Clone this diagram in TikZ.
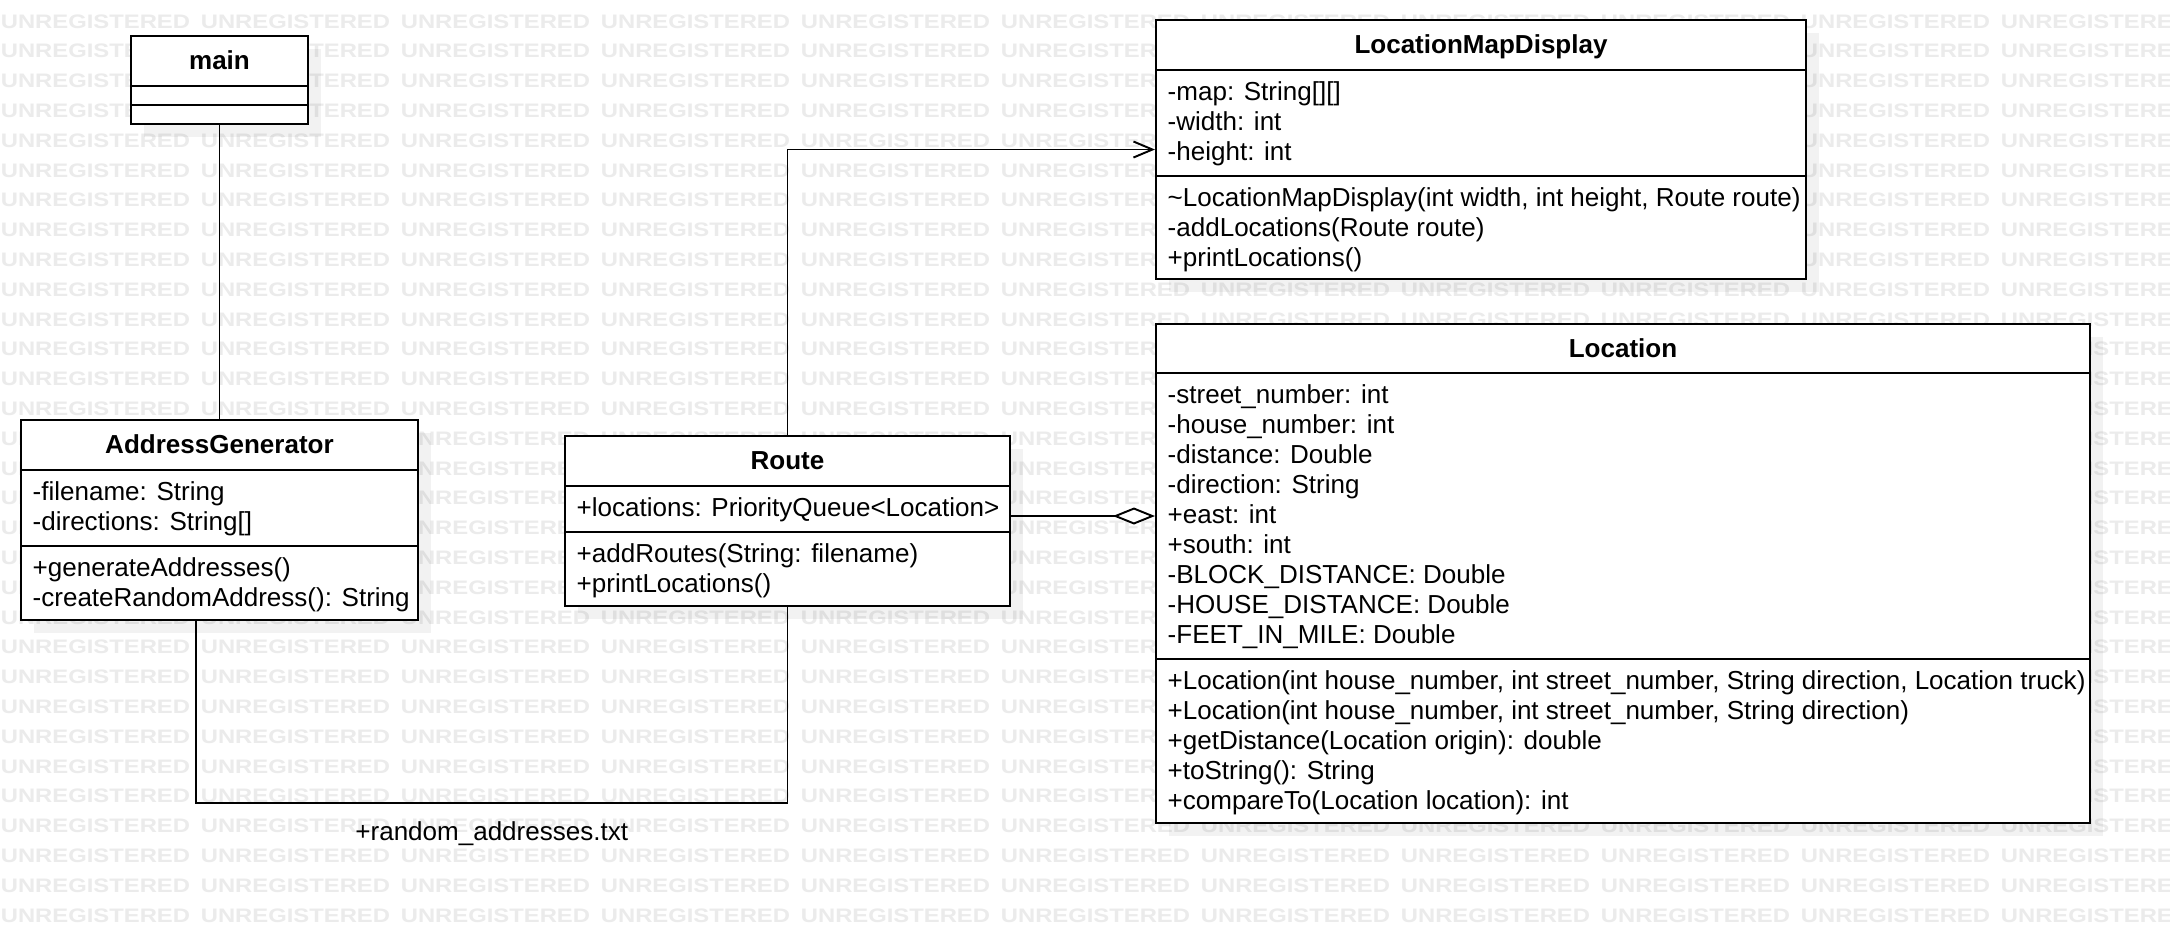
\documentclass[tikz,border=0pt]{standalone}
\usepackage{fontspec}
\setmainfont{Liberation Sans}
\usetikzlibrary{arrows.meta,fit,shadows}
\begin{document}
\begin{tikzpicture}[x=0.01cm,y=-0.01cm,font=\fontsize{7.4}{8.9}\selectfont,
  umlbox/.style={draw,line width=0.6pt,fill=white,inner sep=0pt,
    drop shadow={shadow xshift=0.13cm,shadow yshift=-0.13cm,fill=black,opacity=0.05}},
  member/.style={anchor=base west,inner sep=0pt},
  classname/.style={anchor=base,inner sep=0pt,font=\fontsize{7.4}{8.9}\selectfont\bfseries},
  wmark/.style={anchor=base west,inner sep=0pt,text=black!8,xscale=1.22,font=\fontsize{5.55}{6}\selectfont\bfseries},
  divider/.style={line width=0.6pt},
  link/.style={line width=0.55pt}]
\useasboundingbox (0,0) rectangle (2170,926);
\clip (0,0) rectangle (2170,926);
\fill[white] (0,0) rectangle (2170,926);
\foreach \r in {0,...,30}
  \foreach \c in {0,...,10}
    \node[wmark] (wm-\r-\c) at (200*\c,{28+29.8*\r}) {UNREGISTERED};

\node[umlbox,fit={(131,36)(308,124)}] (main) {};
\draw[divider] (131,86)--(308,86) (131,105)--(308,105);
\node[classname] (main-t) at (219.5,69) {main};

\node[umlbox,fit={(21,420)(418,620)}] (addrgen) {};
\draw[divider] (21,470)--(418,470) (21,546)--(418,546);
\node[classname] (addrgen-t) at (219.5,453) {AddressGenerator};
\foreach \txt [count=\i] in {-filename: String,-directions: String[]}
  \node[member] (addrgen-a\i) at (32,{470+30*\i}) {\txt};
\foreach \txt [count=\i] in {+generateAddresses(),-createRandomAddress(): String}
  \node[member] (addrgen-o\i) at (32,{546+30*\i}) {\txt};

\node[umlbox,fit={(565,436)(1010,606)}] (route) {};
\draw[divider] (565,486)--(1010,486) (565,532)--(1010,532);
\node[classname] (route-t) at (787.5,469) {Route};
\node[member] (route-a1) at (576,516) {+locations: PriorityQueue<Location>};
\foreach \txt [count=\i] in {+addRoutes(String: filename),+printLocations()}
  \node[member] (route-o\i) at (576,{532+30*\i}) {\txt};

\node[umlbox,fit={(1156,20)(1806,279)}] (lmd) {};
\draw[divider] (1156,70)--(1806,70) (1156,176)--(1806,176);
\node[classname] (lmd-t) at (1481,53) {LocationMapDisplay};
\foreach \txt [count=\i] in {-map: String[][],-width: int,-height: int}
  \node[member] (lmd-a\i) at (1167,{70+30*\i}) {\txt};
\foreach \txt [count=\i] in {{\textasciitilde LocationMapDisplay(int width, int height, Route route)},-addLocations(Route route),+printLocations()}
  \node[member] (lmd-o\i) at (1167,{176+30*\i}) {\txt};

\node[umlbox,fit={(1156,324)(2090,823)}] (loc) {};
\draw[divider] (1156,373)--(2090,373) (1156,659)--(2090,659);
\node[classname] (loc-t) at (1623,357) {Location};
\foreach \txt [count=\i] in {-street\_number: int,-house\_number: int,-distance: Double,-direction: String,+east: int,+south: int,-BLOCK\_DISTANCE: Double,-HOUSE\_DISTANCE: Double,-FEET\_IN\_MILE: Double}
  \node[member] (loc-a\i) at (1167,{373+30*\i}) {\txt};
\foreach \txt [count=\i] in {{+Location(int house\_number, int street\_number, String direction, Location truck)},{+Location(int house\_number, int street\_number, String direction)},+getDistance(Location origin): double,+toString(): String,+compareTo(Location location): int}
  \node[member] (loc-o\i) at (1167,{659+30*\i}) {\txt};

\draw[link] (main.south)--(addrgen.north);
\draw[link,-{Straight Barb[length=0.19cm,width=0.16cm]}] (route.north) |- (lmd.west);
\coordinate (aggy) at (1080,516);
\draw[link,{Diamond[length=0.42cm,width=0.17cm,fill=white]}-] (loc.west |- aggy)--(route.east |- aggy);
\coordinate (filecorner) at (196,803);
\draw[link] (addrgen.south -| filecorner)--(filecorner) -| node[pos=0.25,below=0.18cm,inner sep=0pt] (filelabel) {+random\_addresses.txt} (route.south);
\end{tikzpicture}
\end{document}
